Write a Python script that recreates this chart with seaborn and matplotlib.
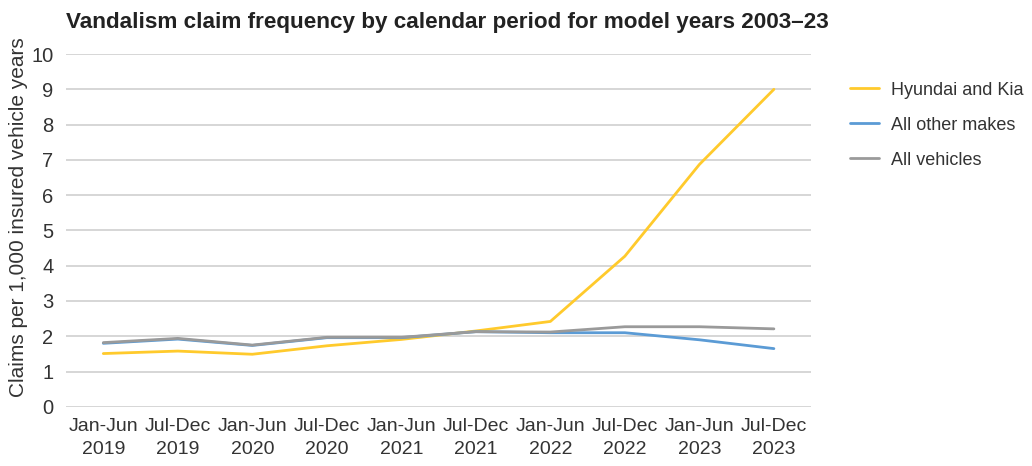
import pandas as pd
import matplotlib.pyplot as plt
import seaborn as sns

# calendar periods on the x axis
periods = ['Jan-Jun\n2019', 'Jul-Dec\n2019', 'Jan-Jun\n2020', 'Jul-Dec\n2020', 'Jan-Jun\n2021',
           'Jul-Dec\n2021', 'Jan-Jun\n2022', 'Jul-Dec\n2022', 'Jan-Jun\n2023', 'Jul-Dec\n2023']

# claims per 1,000 insured vehicle years
hyundai_kia = [1.51, 1.58, 1.49, 1.73, 1.91, 2.15, 2.42, 4.27, 6.87, 9.0]
other_makes = [1.80, 1.92, 1.74, 1.96, 1.96, 2.13, 2.10, 2.10, 1.90, 1.65]
all_vehicles = [1.82, 1.94, 1.75, 1.97, 1.97, 2.13, 2.12, 2.27, 2.27, 2.21]

series_names = ['Hyundai and Kia', 'All other makes', 'All vehicles']
series_colors = ['#FFCA2C', '#5B9BD5', '#9A9A9A']

frames = []
for name, vals in zip(series_names, [hyundai_kia, other_makes, all_vehicles]):
    frames.append(pd.DataFrame({'period': periods, 'pos': range(len(periods)),
                                'value': vals, 'series': name}))
df = pd.concat(frames, ignore_index=True)

sns.set_style('white')
plt.rcParams['font.family'] = ['Liberation Sans', 'DejaVu Sans']

fig, ax = plt.subplots(figsize=(10.32, 4.66), dpi=100)
fig.subplots_adjust(left=0.064, right=0.786, top=0.884, bottom=0.127)

sns.lineplot(data=df, x='pos', y='value', hue='series', hue_order=series_names,
             palette=series_colors, linewidth=2, ax=ax, legend=True)

ax.set_xlim(-0.5, 9.5)
ax.set_ylim(0, 10)
ax.set_yticks(range(0, 11))
ax.set_xticks(range(len(periods)))
ax.set_xticklabels(periods, fontsize=14, color='#333333', linespacing=1.45)
ax.tick_params(axis='y', labelsize=14.5, labelcolor='#333333', length=0, pad=9)
ax.tick_params(axis='x', length=0, pad=8)
ax.yaxis.grid(True, color='#d3d3d3', linewidth=1.3)
ax.set_axisbelow(True)
for s in ax.spines.values():
    s.set_visible(False)

ax.set_xlabel('')
ax.set_ylabel('Claims per 1,000 insured vehicle years', fontsize=15, color='#333333')
ax.yaxis.set_label_coords(-0.051, 0.538)

fig.text(0.064, 0.952, 'Vandalism claim frequency by calendar period for model years 2003\u201323',
         fontsize=16.2, fontweight='bold', color='#222222', va='center')

leg = ax.legend(loc='upper left', bbox_to_anchor=(1.03, 0.968), frameon=False,
                fontsize=13, handlelength=1.6, labelspacing=1.0, handletextpad=0.7)
for t in leg.get_texts():
    t.set_color('#333333')

plt.savefig('out.png', dpi=100)
